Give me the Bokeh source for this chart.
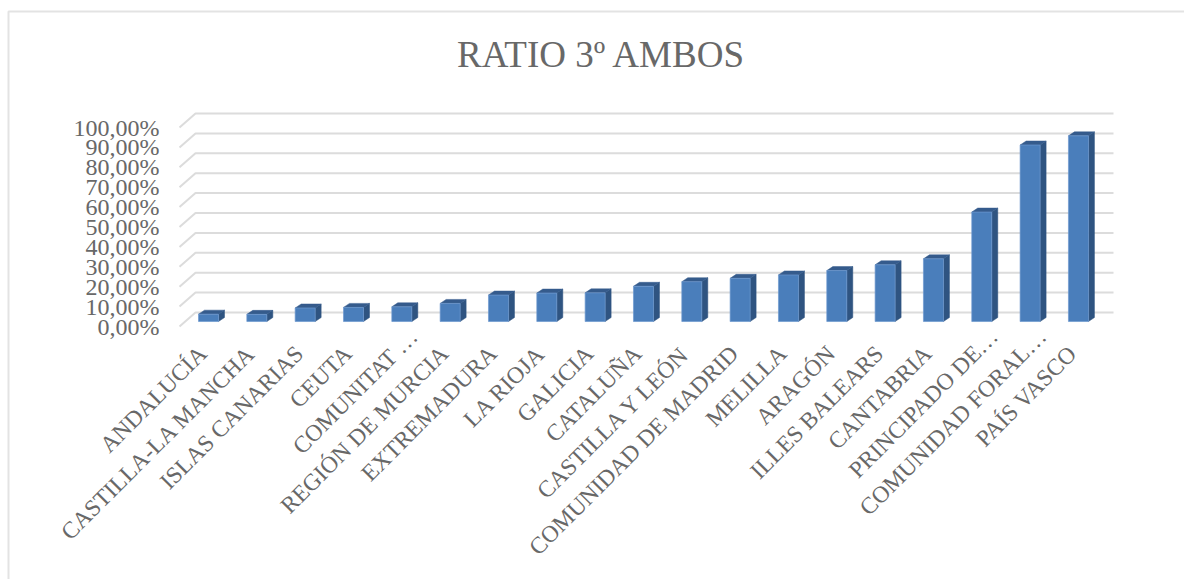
import math

from bokeh.embed import file_html
from bokeh.models import FixedTicker, Label, LinearAxis, Range1d
from bokeh.plotting import figure
from bokeh.resources import INLINE

# Ratio per region, in percent, in ascending order
regions = [
    "ANDALUCÍA", "CASTILLA-LA MANCHA", "ISLAS CANARIAS", "CEUTA", "COMUNITAT …",
    "REGIÓN DE MURCIA", "EXTREMADURA", "LA RIOJA", "GALICIA", "CATALUÑA",
    "CASTILLA Y LEÓN", "COMUNIDAD DE MADRID", "MELILLA", "ARAGÓN", "ILLES BALEARS",
    "CANTABRIA", "PRINCIPADO DE…", "COMUNIDAD FORAL…", "PAÍS VASCO",
]
ratios = [3.7, 3.6, 6.8, 7.1, 7.4, 9.1, 13.3, 14.3, 14.4, 17.7,
          20.0, 21.7, 23.4, 25.6, 28.5, 31.5, 55.0, 88.7, 93.3]
percent_ticks = [0, 10, 20, 30, 40, 50, 60, 70, 80, 90, 100]
percent_labels = [f"{t},00%" for t in percent_ticks]

W, H = 1184, 579
GREY_TEXT = "#686868"
FONT = "Liberation Serif"

# Pixel geometry of the pseudo-3D box: the ranges below make one category
# 48.33 px wide and one percent 1.99 px tall.
PX_PER_CAT = 48.33
PX_PER_PCT = 1.99
ORIGIN_X = 208.0
ORIGIN_Y = 326.0

def x_of(px):
    return (px - ORIGIN_X) / PX_PER_CAT

def y_of(py):
    return (ORIGIN_Y - py) / PX_PER_PCT

dx_cat = 1 / PX_PER_CAT
dy_pct = 1 / PX_PER_PCT

p = figure(
    width=W, height=H, output_backend="svg", toolbar_location=None,
    x_range=Range1d(x_of(0), x_of(W)), y_range=Range1d(y_of(H), y_of(0)),
    x_axis_type=None, y_axis_type=None, min_border=0, outline_line_color=None,
    background_fill_color="white", border_fill_color="white",
)
p.grid.visible = False

# Card edge, visible on the left and top only
p.line([x_of(8), x_of(8), x_of(W)], [y_of(H), y_of(11), y_of(11)],
       line_color="#e3e3e3", line_width=2)

# Gridlines: a short diagonal on the side wall, then along the back wall
wall_x0, wall_x1, wall_x2 = x_of(179), x_of(195), x_of(1113)
wall_rise = 14 * dy_pct
p.multi_line(
    [[wall_x0, wall_x1, wall_x2] for _ in percent_ticks],
    [[t, t + wall_rise, t + wall_rise] for t in percent_ticks],
    line_color="#dcdcdc", line_width=2,
)

# Bars: front face, right side, top face
half = 10 * dx_cat
depth_x = 6 * dx_cat
depth_y = 4 * dy_pct
base = 2.5
idx = list(range(len(regions)))
tops = [base + v for v in ratios]

p.patches(
    [[i + half, i + half + depth_x, i + half + depth_x, i + half] for i in idx],
    [[base, base + depth_y, t + depth_y, t] for t in tops],
    fill_color="#2f5481", line_color="#2f5481", line_width=0.5,
)
p.patches(
    [[i - half, i - half + depth_x, i + half + depth_x, i + half] for i in idx],
    [[t, t + depth_y, t + depth_y, t] for t in tops],
    fill_color="#355b8c", line_color="#355b8c", line_width=0.5,
)
p.quad(left=[i - half for i in idx], right=[i + half for i in idx],
       bottom=base, top=tops, fill_color="#4a7ebb", line_color="#6f9ad0", line_width=0.7)

# Axes pinned inside the full-page frame
y_axis = LinearAxis(
    fixed_location=x_of(179), ticker=FixedTicker(ticks=percent_ticks),
    major_label_overrides=dict(zip(percent_ticks, percent_labels)),
    axis_line_color=None, major_tick_line_color=None, minor_tick_line_color=None,
    major_label_standoff=14, major_label_text_font=FONT,
    major_label_text_font_size="24px", major_label_text_color=GREY_TEXT,
)
p.add_layout(y_axis, "left")

def category_axis(names_at, x_shift_px, axis_py):
    # Slanted labels for the given category indices, nudged along x by x_shift_px
    ticks = [i + x_shift_px * dx_cat for i in names_at]
    axis = LinearAxis(
        fixed_location=y_of(axis_py), ticker=FixedTicker(ticks=ticks),
        major_label_overrides={t: regions[i] for t, i in zip(ticks, names_at)},
        axis_line_color=None, major_tick_line_color=None, minor_tick_line_color=None,
        major_label_standoff=4, major_label_orientation=math.pi / 4,
        major_label_text_font=FONT, major_label_text_font_size="23.5px",
        major_label_text_color=GREY_TEXT,
    )
    p.add_layout(axis, "below")

# Truncated names sit a little further along their slant than the full ones
truncated = [i for i in idx if regions[i].endswith("…")]
full = [i for i in idx if i not in truncated]
category_axis(full, -6, 339)
category_axis(truncated, 12, 322)

p.add_layout(Label(
    x=601, y=H - 54, x_units="screen", y_units="screen", text="RATIO 3º AMBOS",
    text_align="center", text_baseline="middle", text_font=FONT,
    text_font_size="37px", text_color=GREY_TEXT,
))

open("out.html", "w").write(file_html(p, INLINE))
